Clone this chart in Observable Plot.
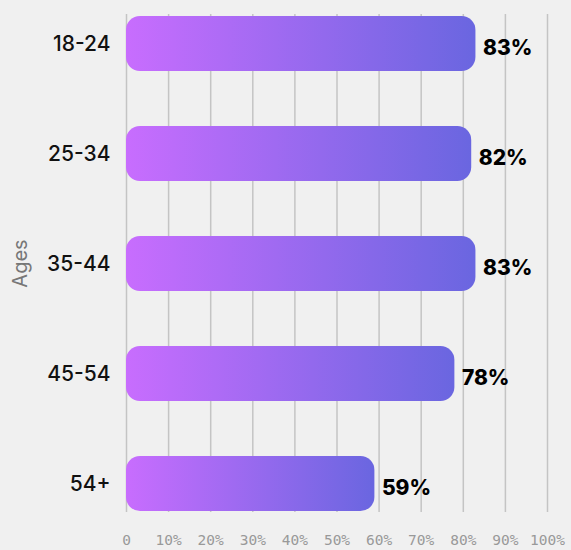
<!DOCTYPE html>
<html>
<head>
<meta charset="utf-8">
<script src="https://cdn.jsdelivr.net/npm/d3@7"></script>
<script src="https://cdn.jsdelivr.net/npm/@observablehq/plot@0.6"></script>
<style>
  html, body { margin: 0; padding: 0; background: #f0f0f0; }
  #chart svg { display: block; }
</style>
</head>
<body>
<div id="chart"></div>
<script>
const ages = ["18-24", "25-34", "35-44", "45-54", "54+"];
const shares = [83, 82, 83, 78, 59];
const xTicks = [0, 10, 20, 30, 40, 50, 60, 70, 80, 90, 100];

const data = ages.map((a, i) => ({age: a, value: shares[i]}));

const chart = Plot.plot({
  width: 571,
  height: 550,
  marginLeft: 126,
  marginRight: 24,
  marginTop: 14,
  marginBottom: 38,
  style: {background: "#f0f0f0", fontFamily: "Inter, sans-serif"},
  x: {domain: [0, 100], ticks: xTicks},
  y: {domain: ages, paddingInner: 0.5, paddingOuter: 0},
  marks: [
    Plot.gridX(xTicks, {stroke: "#c4c4c4", strokeOpacity: 1, strokeWidth: 1.5}),
    Plot.axisX(xTicks, {
      tickSize: 0, tickPadding: 22,
      tickFormat: d => d === 0 ? "0" : d + "%",
      fontFamily: "DejaVu Sans Mono", fontSize: 14.5, fill: "#999", label: null
    }),
    Plot.axisY({
      tickSize: 0, tickPadding: 16, fontSize: 21, fill: "#111", fontWeight: 500,
      label: "Ages", labelAnchor: "center", labelArrow: "none", labelOffset: 114
    }),
    Plot.barX(data, {x: "value", y: "age", fill: "url(#barGrad)", rx: 14}),
    Plot.text(data, {
      x: "value", y: "age", text: d => d.value + "%",
      textAnchor: "start", dx: 7, dy: 4, fontSize: 21, fontWeight: 800, fill: "#000"
    })
  ]
});

const ns = "http://www.w3.org/2000/svg";
const defs = document.createElementNS(ns, "defs");
const grad = document.createElementNS(ns, "linearGradient");
grad.setAttribute("id", "barGrad");
grad.setAttribute("x1", "0"); grad.setAttribute("x2", "1");
grad.setAttribute("y1", "0"); grad.setAttribute("y2", "0");
[["0%", "#c86dfe"], ["100%", "#6a66e0"]].forEach(([o, c]) => {
  const s = document.createElementNS(ns, "stop");
  s.setAttribute("offset", o); s.setAttribute("stop-color", c);
  grad.appendChild(s);
});
defs.appendChild(grad);
chart.insertBefore(defs, chart.firstChild);

chart.querySelectorAll("[aria-label='y-axis label'] text, [aria-label='y-axis label']").forEach(el => {
  el.setAttribute("fill", "#777");
  el.setAttribute("font-size", "20");
  el.setAttribute("font-weight", "400");
});

document.getElementById("chart").appendChild(chart);
</script>
</body>
</html>
